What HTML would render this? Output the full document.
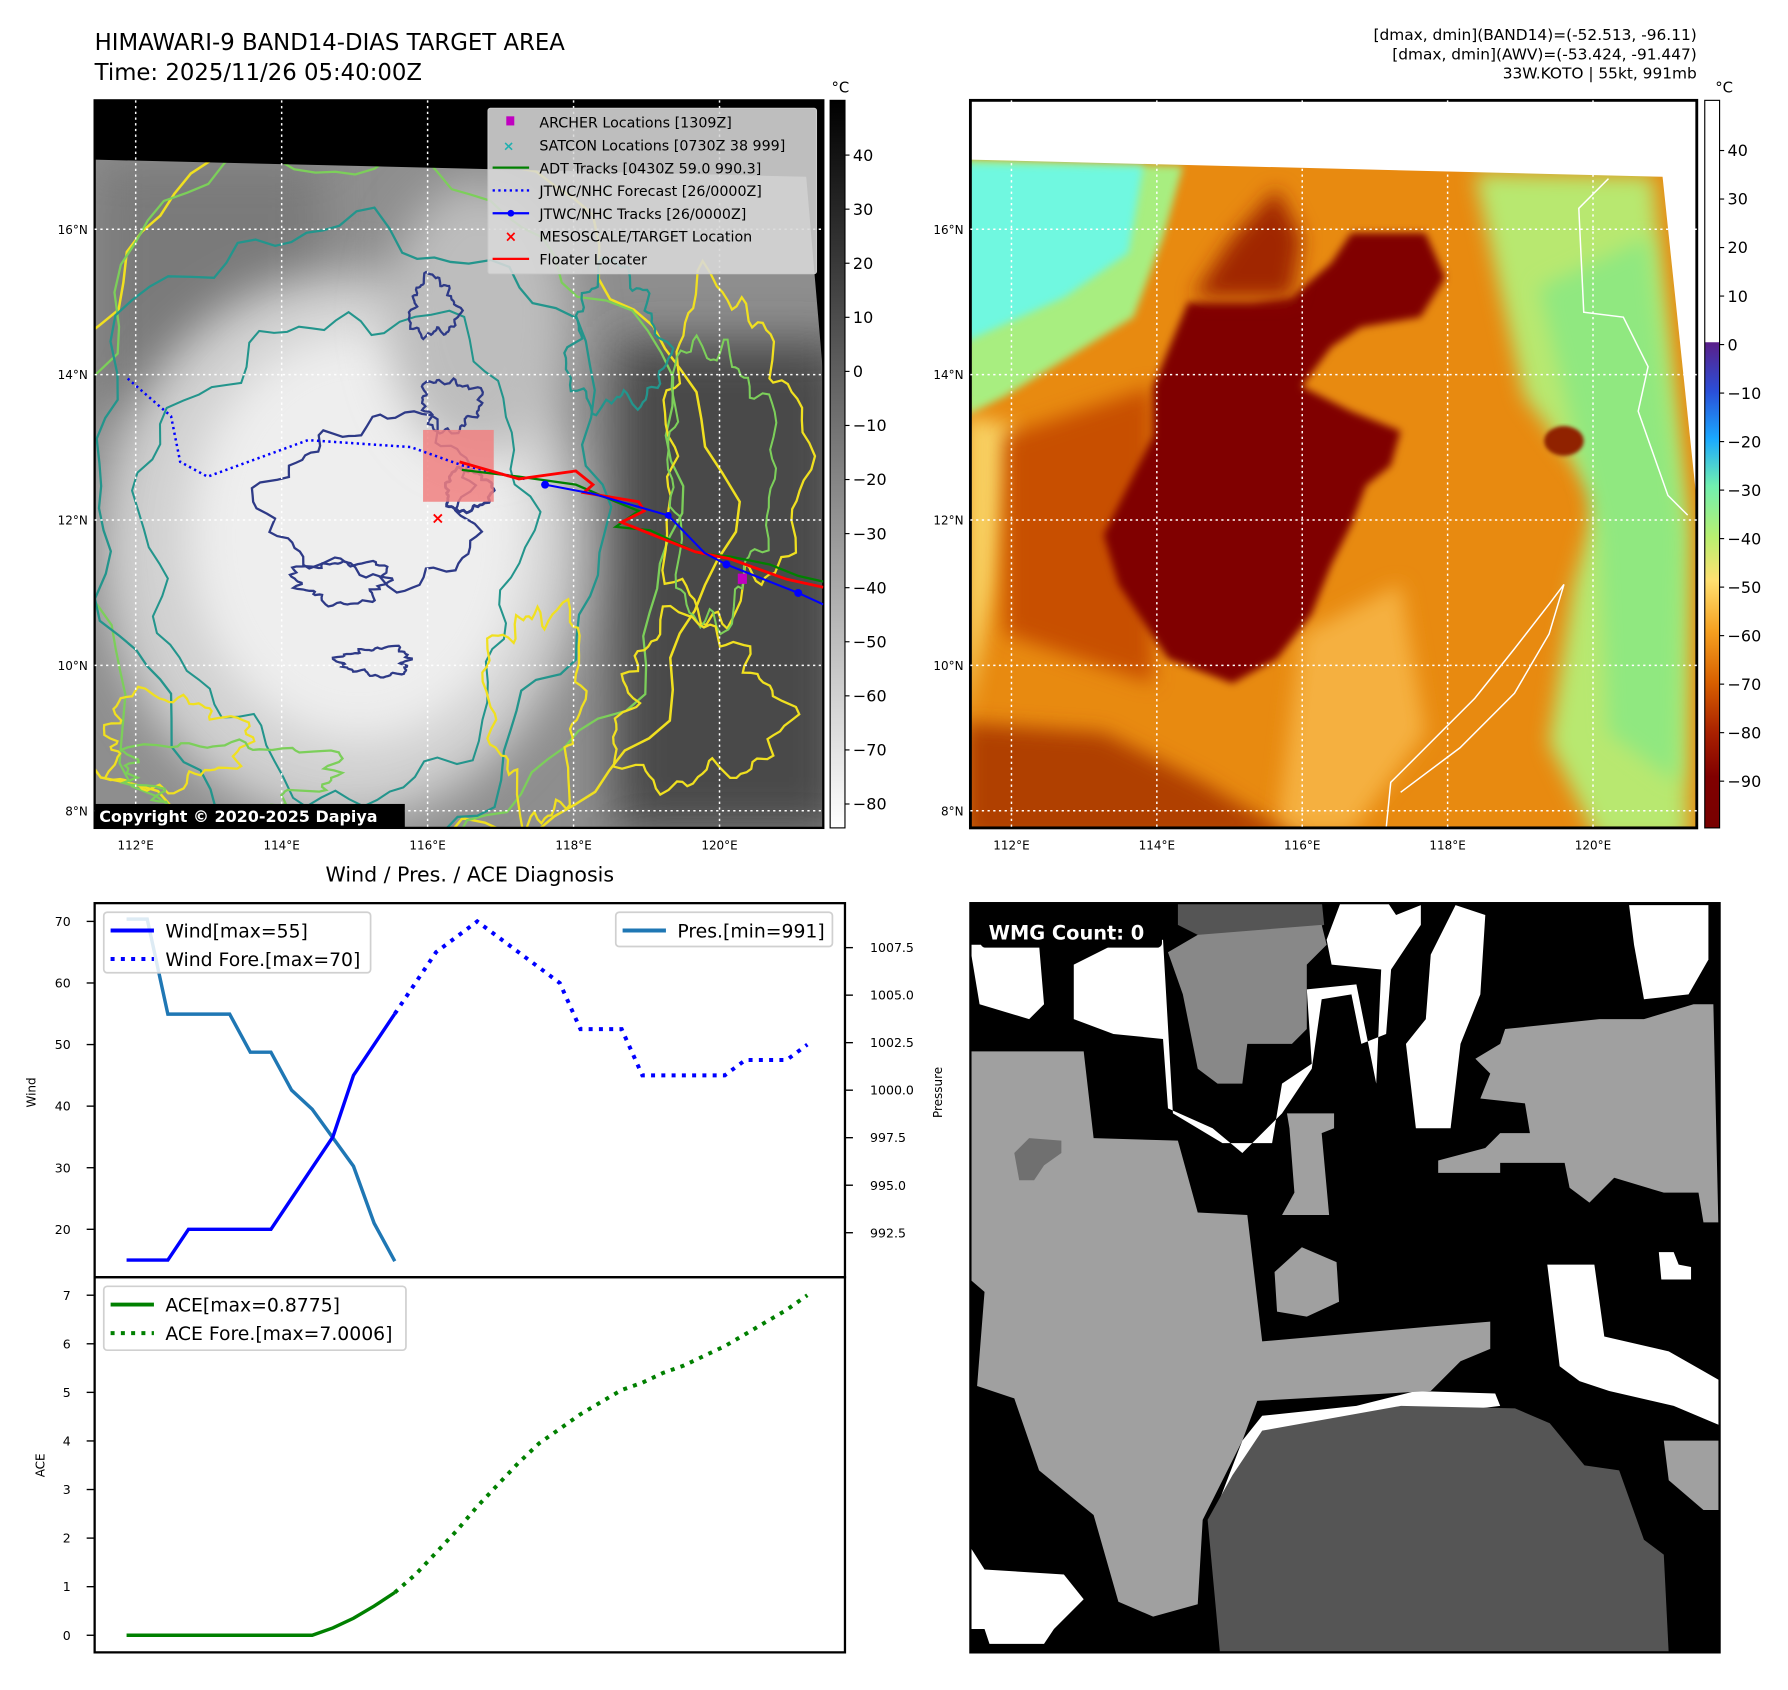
<!DOCTYPE html>
<html><head><meta charset="utf-8"><style>
html,body{margin:0;padding:0;background:#fff;}
svg{display:block;font-family:"DejaVu Sans","Liberation Sans",sans-serif;}
</style></head><body>
<svg id="root" width="1788" height="1690" viewBox="0 0 1568 1482" preserveAspectRatio="none" xmlns="http://www.w3.org/2000/svg">
<defs>
<filter id="b8" x="-30%" y="-30%" width="160%" height="160%"><feGaussianBlur stdDeviation="8"/></filter>
<filter id="b20" x="-30%" y="-30%" width="160%" height="160%"><feGaussianBlur stdDeviation="20"/></filter>
<filter id="b4"><feGaussianBlur stdDeviation="4"/></filter>
<clipPath id="cl"><rect x="83" y="88" width="639" height="638"/></clipPath>
<clipPath id="cr"><rect x="851" y="88" width="637" height="638"/></clipPath>
<clipPath id="cb"><rect x="851" y="792" width="657" height="657"/></clipPath>
<linearGradient id="gl" x1="0" y1="0" x2="0" y2="1">
<stop offset="0" stop-color="#000"/><stop offset="1" stop-color="#fff"/></linearGradient>
<linearGradient id="gr" x1="0" y1="0" x2="0" y2="1">
<stop offset="0" stop-color="#fff"/><stop offset="0.332" stop-color="#fff"/>
<stop offset="0.333" stop-color="#5a1f8a"/><stop offset="0.4" stop-color="#2a4fd8"/>
<stop offset="0.465" stop-color="#1aa8ff"/><stop offset="0.53" stop-color="#70f0b0"/>
<stop offset="0.6" stop-color="#b8f070"/><stop offset="0.66" stop-color="#ffe070"/>
<stop offset="0.73" stop-color="#f5a020"/><stop offset="0.8" stop-color="#d86000"/>
<stop offset="0.87" stop-color="#a82000"/><stop offset="0.93" stop-color="#800000"/>
<stop offset="1" stop-color="#780000"/></linearGradient>
</defs>

<!-- Titles -->
<text x="83" y="44" font-size="20">HIMAWARI-9 BAND14-DIAS TARGET AREA</text>
<text x="83" y="70" font-size="20">Time: 2025/11/26 05:40:00Z</text>
<g font-size="13.5" text-anchor="end">
<text x="1488" y="35">[dmax, dmin](BAND14)=(-52.513, -96.11)</text>
<text x="1488" y="52">[dmax, dmin](AWV)=(-53.424, -91.447)</text>
<text x="1488" y="69">33W.KOTO | 55kt, 991mb</text>
</g>

<!-- LEFT MAP -->
<g clip-path="url(#cl)">
<rect x="83" y="88" width="639" height="638" fill="#8e8e8e"/>
<rect x="540" y="300" width="200" height="430" fill="#4a4a4a" filter="url(#b20)"/>
<rect x="83" y="140" width="200" height="220" fill="#7a7a7a" filter="url(#b20)"/>
<ellipse cx="300" cy="480" rx="210" ry="240" fill="#d0d0d0" filter="url(#b20)"/>
<ellipse cx="315" cy="470" rx="150" ry="180" fill="#eeeeee" filter="url(#b20)"/>
<ellipse cx="420" cy="280" rx="80" ry="120" fill="#bdbdbd" filter="url(#b20)"/>
<g id="contours" fill="none" stroke-width="2"></g>
<polygon points="83,88 722,88 722,330 707,155 83,140" fill="#000"/>
</g>
<rect x="83" y="88" width="639" height="638" fill="none" stroke="#000" stroke-width="2"/>

<!-- RIGHT MAP -->
<g clip-path="url(#cr)">
<rect x="851" y="88" width="637" height="638" fill="#e88a10"/>
<g transform="translate(837.7,78.5) scale(0.434)">
<polygon points="20,140 460,155 420,300 360,460 230,540 100,620 20,660" fill="#a8ee80" filter="url(#b8)"/>
<polygon points="20,150 380,155 350,330 220,420 20,510" fill="#70f8e0" filter="url(#b8)"/>
<polygon points="1050,170 1410,175 1480,880 1480,1520 1300,1520 1200,1320 1250,1000 1300,820 1150,620 1100,400" fill="#b8e870" filter="url(#b20)"/>
<polygon points="1180,400 1400,300 1470,900 1460,1400 1320,1300 1300,900" fill="#90e880" filter="url(#b20)"/>
<polygon points="20,660 120,680 80,1000 20,1280" fill="#f8d060" filter="url(#b20)"/>
<polygon points="700,1100 900,1000 950,1300 800,1500 650,1500" fill="#f5b040" filter="url(#b20)"/>
<polygon points="100,700 400,600 400,1200 100,1100" fill="#c85000" filter="url(#b20)"/>
<polygon points="400,600 470,430 600,430 680,420 760,350 800,290 950,290 990,380 940,460 820,480 760,520 700,600 800,650 900,690 880,760 830,800 800,880 760,960 720,1060 650,1150 560,1200 430,1150 330,1000 300,900 350,800 400,700" fill="#800000" filter="url(#b8)"/>
<polygon points="480,420 560,300 650,200 700,300 680,420" fill="#a02800" filter="url(#b20)"/>
<polygon points="20,1280 300,1300 500,1400 700,1520 20,1520" fill="#b04000" filter="url(#b20)"/>
<ellipse cx="1230" cy="710" rx="40" ry="30" fill="#902000" filter="url(#b4)"/>
<polyline points="870,1500 880,1400 950,1330 1050,1230 1130,1130 1200,1040 1230,1000 1200,1100 1130,1220 1020,1330 900,1420" fill="none" stroke="#fff" stroke-width="3"/>
<polyline points="1320,180 1260,240 1270,450 1350,460 1400,560 1380,650 1440,820 1480,860" fill="none" stroke="#fff" stroke-width="3"/>
</g>
<polygon points="851,88 1488,88 1488,440 1458,155 851,140" fill="#fff"/>
</g>
<rect x="851" y="88" width="637" height="638" fill="none" stroke="#000" stroke-width="2.5"/>

<!-- grids -->
<g id="grids" stroke="#fff" stroke-width="1.3" stroke-dasharray="2,3"></g>
<g id="geolabels" font-size="10.5"></g>

<!-- tracks on left map -->
<g clip-path="url(#cl)">
<rect x="371" y="377" width="62" height="63" fill="#f08080" opacity="0.85"/>
<polyline points="112,332 150,365 158,405 182,418 270,386 360,392 405,408 460,420" fill="none" stroke="#0000ff" stroke-width="2.2" stroke-dasharray="2,3"/>
<polyline points="405,412 455,418 505,425 540,440 560,448 540,462 570,465 612,485 640,488 675,495 700,505 722,510" fill="none" stroke="#008000" stroke-width="2"/>
<polyline points="403,405 455,420 505,413 520,425 512,432 560,440 565,448 545,458 610,484 640,490 690,508 722,515" fill="none" stroke="#ff0000" stroke-width="2.5"/>
<polyline points="478,425 520,433 586,452 618,485 637,495 700,520 722,530" fill="none" stroke="#0000ff" stroke-width="1.8"/>
<circle cx="478" cy="425" r="3.5" fill="#00f"/><circle cx="586" cy="452" r="3" fill="#00f"/><circle cx="637" cy="495" r="3.5" fill="#00f"/><circle cx="700" cy="520" r="3.5" fill="#00f"/>
<rect x="647" y="503" width="8" height="9" fill="#c000c0"/>
<text x="384" y="459" font-size="14" fill="#f00" font-weight="bold" text-anchor="middle">×</text>
</g>

<!-- legend -->
<g font-size="12.5">
<rect x="428" y="95" width="288" height="145" fill="#d8d8d8" fill-opacity="0.88" stroke="#ccc" rx="2"/>
<rect x="444" y="102" width="7" height="8" fill="#c000c0"/>
<text x="446" y="132" fill="#20b0b0" font-size="12" text-anchor="middle" font-weight="bold">×</text>
<line x1="432" y1="147" x2="464" y2="147" stroke="#008000" stroke-width="2"/>
<line x1="432" y1="167" x2="464" y2="167" stroke="#00f" stroke-width="2" stroke-dasharray="2,3"/>
<line x1="432" y1="187" x2="464" y2="187" stroke="#00f" stroke-width="2"/><circle cx="448" cy="187" r="3" fill="#00f"/>
<text x="448" y="212" fill="#f00" font-size="13" text-anchor="middle" font-weight="bold">×</text>
<line x1="432" y1="227" x2="464" y2="227" stroke="#f00" stroke-width="2"/>
<text x="473" y="112">ARCHER Locations [1309Z]</text>
<text x="473" y="132">SATCON Locations [0730Z 38 999]</text>
<text x="473" y="152">ADT Tracks [0430Z 59.0 990.3]</text>
<text x="473" y="172">JTWC/NHC Forecast [26/0000Z]</text>
<text x="473" y="192">JTWC/NHC Tracks [26/0000Z]</text>
<text x="473" y="212">MESOSCALE/TARGET Location</text>
<text x="473" y="232">Floater Locater</text>
</g>
<rect x="83" y="705" width="272" height="21" fill="#000"/>
<text x="87" y="721" font-size="14" font-weight="bold" fill="#fff">Copyright © 2020-2025 Dapiya</text>

<!-- colorbars -->
<g>
<rect x="728" y="88" width="13" height="638" fill="url(#gl)" stroke="#000" stroke-width="1"/>
<text x="737" y="81" font-size="13" text-anchor="middle">°C</text>
<g id="cbl" font-size="14"></g>
</g>
<g>
<rect x="1495" y="88" width="13" height="638" fill="url(#gr)" stroke="#000" stroke-width="1"/>
<text x="1512" y="81" font-size="13" text-anchor="middle">°C</text>
<g id="cbr" font-size="14"></g>
</g>

<!-- DIAGNOSIS -->
<text x="412" y="773" font-size="18" text-anchor="middle">Wind / Pres. / ACE Diagnosis</text>
<g id="diag"></g>

<!-- WMG panel -->
<g clip-path="url(#cb)">
<rect x="851" y="792" width="657" height="657" fill="#000"/>
<g transform="translate(846,785) scale(0.4348)">
<polygon points="10,100 150,100 160,220 130,250 30,220" fill="#fff"/>
<polygon points="220,140 300,100 400,90 420,440 520,500 620,500 640,380 700,340 690,190 790,180 830,380 840,150 740,140 730,90 760,10 850,10 870,40 920,20 920,60 860,150 850,280 800,300 780,200 720,210 700,350 640,440 560,520 500,470 410,430 400,290 300,280 220,250" fill="#fff"/>
<polygon points="940,120 990,20 1050,40 1040,200 1000,300 980,470 910,470 890,300 930,250" fill="#fff"/>
<polygon points="1340,20 1500,20 1500,130 1460,200 1370,210 1350,100" fill="#fff"/>
<polygon points="1175,745 1270,745 1290,890 1420,920 1490,960 1525,980 1525,1070 1430,1030 1300,1000 1240,980 1200,950" fill="#fff"/>
<polygon points="1400,720 1430,720 1440,745 1465,750 1465,775 1405,775" fill="#fff"/>
<polygon points="5,1305 40,1360 200,1370 240,1420 180,1480 160,1510 50,1510 40,1480 5,1480" fill="#fff"/>
<polygon points="560,1100 600,1050 790,1030 910,1000 1070,1005 1080,1030 600,1090 560,1230 510,1230" fill="#fff"/>
<polygon points="430,10 720,10 725,60 600,90 540,90 540,140 480,140 470,80 430,60" fill="#555"/>
<polygon points="410,115 470,80 720,60 730,100 690,140 690,270 660,300 570,300 560,380 510,380 470,350 440,200" fill="#888"/>
<polygon points="5,315 240,315 260,490 430,495 470,640 570,645 600,900 940,870 1060,860 1060,915 1000,940 940,1000 590,1020 560,1100 480,1260 470,1430 380,1455 310,1425 260,1250 150,1160 100,1015 25,990 40,800 5,770" fill="#a0a0a0"/>
<polygon points="1030,330 1080,300 1090,270 1280,250 1370,250 1470,220 1510,220 1520,660 1490,660 1480,600 1410,600 1310,570 1260,620 1220,590 1210,540 1080,540 1080,560 955,560 955,535 1050,510 1080,480 1140,480 1130,420 1040,410 1060,360" fill="#a0a0a0"/>
<polygon points="650,440 745,440 745,470 720,480 735,645 640,645 665,600 655,470" fill="#a0a0a0"/>
<polygon points="625,760 680,710 750,740 755,820 690,850 630,840" fill="#a0a0a0"/>
<polygon points="1410,1100 1525,1100 1525,1240 1490,1240 1420,1180" fill="#a0a0a0"/>
<polygon points="100,520 130,490 195,495 195,520 160,545 140,575 110,575" fill="#707070"/>
<polygon points="600,1080 880,1030 1110,1035 1180,1065 1250,1150 1320,1160 1370,1300 1410,1330 1420,1530 515,1530 490,1260 540,1170" fill="#555"/>
</g>
</g>
<rect x="851" y="792" width="657" height="657" fill="none" stroke="#000" stroke-width="2"/>
<rect x="860" y="804" width="159" height="27" rx="4" fill="#000"/>
<text x="867" y="824" font-size="17" font-weight="bold" fill="#fff">WMG Count: 0</text>
</svg>

<script>
// ---- chart data ----
const idxObs = [0,1,2,3,4,5,6,7,8,9,10,11,12,13];
const idxFore = [13,14,15,16,17,18,19,20,21,22,23,24,25,26,27,28,29,30,31,32,33];
const windObs = [15,15,15,20,20,20,20,20,25,30,35,45,50,55];
const windFore = [55,60,65,67.5,70,67.5,65,62.5,60,52.5,52.5,52.5,45,45,45,45,45,47.5,47.5,47.5,50];
const presObs = [1009,1009,1004,1004,1004,1004,1002,1002,1000,999,997.5,996,993,991];
const aceObs = [0,0,0,0,0,0,0,0,0,0,0.15,0.35,0.6,0.88];
const aceFore = [0.88,1.25,1.7,2.15,2.65,3.1,3.55,3.95,4.25,4.55,4.8,5.05,5.2,5.4,5.55,5.75,5.95,6.2,6.45,6.7,7.0];
const windTicks = [20,30,40,50,60,70];
const presTicks = [992.5,995.0,997.5,1000.0,1002.5,1005.0,1007.5];
const aceTicks = [0,1,2,3,4,5,6,7];
const leftCbTicks = [40,30,20,10,0,-10,-20,-30,-40,-50,-60,-70,-80];
const rightCbTicks = [40,30,20,10,0,-10,-20,-30,-40,-50,-60,-70,-80,-90];
const latTicks = [16,14,12,10,8];
const lonTicks = [112,114,116,118,120];

const NS = 'http://www.w3.org/2000/svg';
function mk(tag, attrs, parent, txt){
  const e = document.createElementNS(NS, tag);
  for (const k in attrs) e.setAttribute(k, attrs[k]);
  if (txt !== undefined) e.textContent = txt;
  parent.appendChild(e); return e;
}
// axis functions
const xI = i => 111 + i * 18.09;
const yW = w => 808 + (70 - w) * 5.4;
const yP = p => 831 + (1007.5 - p) * 16.667;
const yA = a => 1434 - a * 42.6;
const yLat = l => 201 + (16 - l) * 63.75;
const xLonL = l => 119 + (l - 112) * 64;
const xLonR = l => 887 + (l - 112) * 63.75;
const yCbL = v => 136 + (40 - v) * 4.742;
const yCbR = v => 132 + (40 - v) * 4.254;

const diag = document.getElementById('diag');
const f1 = mk('rect', {x:83,y:792,width:658,height:328,fill:'none',stroke:'#000','stroke-width':2}, diag);


const f2 = mk('rect', {x:83,y:1120,width:658,height:329,fill:'none',stroke:'#000','stroke-width':2}, diag);



function tickL(y, label, g){
  mk('line',{x1:76,y1:y,x2:83,y2:y,stroke:'#000','stroke-width':1.2},g);
  mk('text',{x:62,y:y+4,'font-size':11,'text-anchor':'end'},g,label);
}
const wt = mk('g',{},diag);


windTicks.forEach(v => tickL(yW(v), String(v), wt));
const pt = mk('g',{},diag);


presTicks.forEach(v => {
  const y = yP(v);
  mk('line',{x1:741,y1:y,x2:748,y2:y,stroke:'#000','stroke-width':1.2},pt);
  mk('text',{x:763,y:y+4,'font-size':11},pt,v.toFixed(1));
});
const at = mk('g',{},diag);


aceTicks.forEach(v => tickL(yA(v), String(v), at));

const l1 = mk('text',{x:0,y:0,'font-size':10.5,'text-anchor':'middle',transform:'translate(31,958) rotate(-90)'},diag,'Wind');


const l2 = mk('text',{x:0,y:0,'font-size':10.5,'text-anchor':'middle',transform:'translate(826,958) rotate(-90)'},diag,'Pressure');


const l3 = mk('text',{x:0,y:0,'font-size':10.5,'text-anchor':'middle',transform:'translate(39,1285) rotate(-90)'},diag,'ACE');



function pts(idx, vals, yf){ return idx.map((i,k)=> xI(i).toFixed(1)+','+yf(vals[k]).toFixed(1)).join(' '); }
const pres = mk('polyline',{points:pts(idxObs,presObs,yP),fill:'none',stroke:'#1f77b4','stroke-width':3},diag);


const wl = mk('polyline',{points:pts(idxObs,windObs,yW),fill:'none',stroke:'#0000ff','stroke-width':3},diag);


const wf = mk('polyline',{points:pts(idxFore,windFore,yW),fill:'none',stroke:'#0000ff','stroke-width':3.5,'stroke-dasharray':'3.5,5.5'},diag);


const al = mk('polyline',{points:pts(idxObs,aceObs,yA),fill:'none',stroke:'#008000','stroke-width':3},diag);


const af = mk('polyline',{points:pts(idxFore,aceFore,yA),fill:'none',stroke:'#008000','stroke-width':3.5,'stroke-dasharray':'3.5,5.5'},diag);



function legend(x,y,w,h,items,name){
  const g = mk('g',{},diag);
  
  
  mk('rect',{x:x,y:y,width:w,height:h,rx:3,fill:'#fff','fill-opacity':0.85,stroke:'#d0d0d0','stroke-width':1.5},g);
  items.forEach((it,k)=>{
    const yy = y + 16 + k*25;
    const a = {x1:x+6,y1:yy,x2:x+44,y2:yy,stroke:it.c,'stroke-width':3.5};
    if (it.d) a['stroke-dasharray']='3.5,5.5';
    mk('line',a,g);
    mk('text',{x:x+54,y:yy+6,'font-size':16.5},g,it.t);
  });
}
legend(91,800,234,53,[{c:'#0000ff',t:'Wind[max=55]'},{c:'#0000ff',t:'Wind Fore.[max=70]',d:1}],'wind-legend');
legend(540,800,190,30,[{c:'#1f77b4',t:'Pres.[min=991]'}],'pressure-legend');
legend(91,1128,265,56,[{c:'#008000',t:'ACE[max=0.8775]'},{c:'#008000',t:'ACE Fore.[max=7.0006]',d:1}],'ace-legend');

const cbl = document.getElementById('cbl');
leftCbTicks.forEach(v=>{ const y=yCbL(v);
  mk('line',{x1:741,y1:y,x2:745,y2:y,stroke:'#000'},cbl);
  mk('text',{x:748,y:y+5},cbl,v<0?'\u2212'+(-v):String(v)); });
const cbr = document.getElementById('cbr');
rightCbTicks.forEach(v=>{ const y=yCbR(v);
  mk('line',{x1:1508,y1:y,x2:1512,y2:y,stroke:'#000'},cbr);
  mk('text',{x:1515,y:y+5},cbr,v<0?'\u2212'+(-v):String(v)); });

const gr = document.getElementById('grids');


const gl = document.getElementById('geolabels');


latTicks.forEach(l=>{ const y=yLat(l);
  mk('line',{x1:83,y1:y,x2:722,y2:y},gr); mk('line',{x1:851,y1:y,x2:1488,y2:y},gr);
  mk('text',{x:77,y:y+4,'text-anchor':'end'},gl,l+'°N');
  mk('text',{x:845,y:y+4,'text-anchor':'end'},gl,l+'°N'); });
lonTicks.forEach(l=>{ let x=xLonL(l);
  mk('line',{x1:x,y1:88,x2:x,y2:726},gr);
  mk('text',{x:x,y:745,'text-anchor':'middle'},gl,l+'°E');
  x=xLonR(l);
  mk('line',{x1:x,y1:88,x2:x,y2:726},gr);
  mk('text',{x:x,y:745,'text-anchor':'middle'},gl,l+'°E'); });

const cg = document.getElementById('contours');
function blob(cx,cy,rx,ry,seed,amp,col,sw){
  let d=''; const N=90;
  for(let k=0;k<=N;k++){ const t=k/N*Math.PI*2;
    let r=1+amp*(Math.sin(3*t+seed)*0.5+Math.sin(7*t+seed*2.1)*0.3+Math.sin(13*t+seed*0.7)*0.25+Math.sin(23*t+seed*1.3)*0.15);
    const x=cx+rx*r*Math.cos(t), y=cy+ry*r*Math.sin(t);
    d+=(k?'L':'M')+x.toFixed(1)+','+y.toFixed(1);
  }
  mk('path',{d:d+'Z',stroke:col,'stroke-width':sw||2},cg);
}
blob(330,440,285,340,1.0,0.12,'#f0e020',2.2);
blob(320,450,262,318,2.0,0.12,'#7ccf5a',2);
blob(305,465,220,280,3.0,0.14,'#23958c',2);
blob(300,480,165,210,4.0,0.16,'#23958c',1.8);
blob(330,440,90,70,5.0,0.25,'#2e3a87',2);
blob(410,430,20,18,1.5,0.2,'#2e3a87',2.5);
blob(395,355,25,22,2.5,0.3,'#2e3a87',2);
blob(300,510,40,18,3.5,0.3,'#2e3a87',2);
blob(330,580,30,12,4.5,0.3,'#2e3a87',2);
blob(380,270,20,25,0.5,0.3,'#2e3a87',2);
blob(640,400,60,140,1.2,0.25,'#f0e020',2);
blob(630,420,45,120,2.2,0.25,'#7ccf5a',1.8);
blob(610,620,70,70,0.7,0.3,'#f0e020',2);
blob(150,650,60,40,1.7,0.3,'#f0e020',2);
blob(200,680,90,30,2.7,0.3,'#7ccf5a',2);
blob(470,620,40,90,3.7,0.3,'#f0e020',2);
blob(540,300,40,60,0.3,0.3,'#23958c',2);
</script>
</body></html>
